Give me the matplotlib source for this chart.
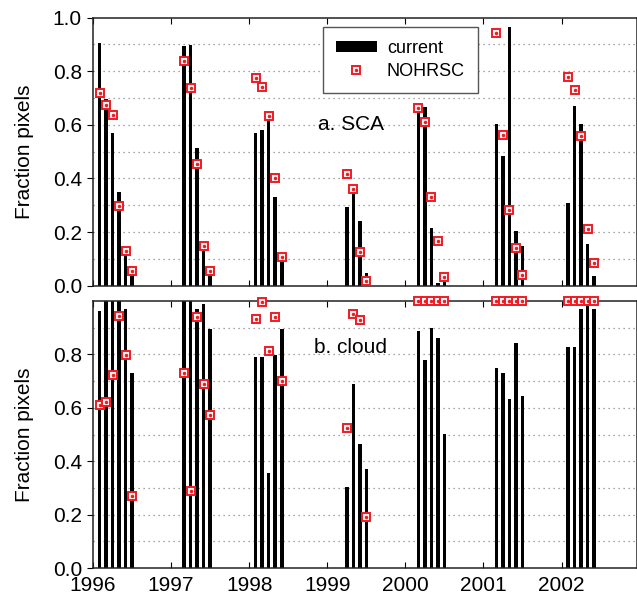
import matplotlib
matplotlib.use("Agg")
import matplotlib.pyplot as plt
from matplotlib.patches import Patch
from matplotlib.lines import Line2D

plt.rcParams['font.family'] = ['Liberation Sans', 'DejaVu Sans']

# Monthly values per snow season (month index: 1=Jan ... 12=Dec)
years = [1996]*6 + [1997]*5 + [1998]*5 + [1999]*4 + [2000]*5 + [2001]*5 + [2002]*5
months = [2, 3, 4, 5, 6, 7,
          3, 4, 5, 6, 7,
          2, 3, 4, 5, 6,
          4, 5, 6, 7,
          3, 4, 5, 6, 7,
          3, 4, 5, 6, 7,
          2, 3, 4, 5, 6]

# a. SCA
sca_current = [0.904, 0.695, 0.571, 0.348, 0.12, 0.04,
               0.896, 0.898, 0.512, 0.13, 0.04,
               0.571, 0.581, 0.618, 0.332, 0.09,
               0.295, 0.357, 0.243, 0.049,
               0.668, 0.665, 0.216, 0.011, 0.015,
               0.603, 0.485, 0.966, 0.204, 0.149,
               0.31, 0.67, 0.603, 0.155, 0.036]
sca_nohrsc = [0.72, 0.675, 0.636, 0.298, 0.131, 0.056,
              0.838, 0.738, 0.454, 0.148, 0.056,
              0.776, 0.743, 0.632, 0.403, 0.107,
              0.417, 0.361, 0.124, 0.017,
              0.664, 0.611, 0.332, 0.168, 0.031,
              0.942, 0.562, 0.282, 0.142, 0.039,
              0.78, 0.73, 0.56, 0.213, 0.083]

# b. cloud
cloud_current = [0.962, 1.0, 1.0, 1.0, 0.97, 0.73,
                 1.0, 1.0, 0.97, 0.99, 0.896,
                 0.79, 0.79, 0.354, 0.796, 0.896,
                 0.304, 0.688, 0.464, 0.369,
                 0.886, 0.78, 0.90, 0.861, 0.503,
                 0.75, 0.73, 0.632, 0.842, 0.644,
                 0.827, 0.827, 0.97, 0.99, 0.97]
cloud_nohrsc = [0.609, 0.622, 0.724, 0.942, 0.796, 0.27,
                0.731, 0.289, 0.94, 0.69, 0.572,
                0.931, 0.996, 0.811, 0.94, 0.70,
                0.525, 0.95, 0.927, 0.192,
                1.0, 1.0, 1.0, 1.0, 1.0,
                1.0, 1.0, 1.0, 1.0, 1.0,
                1.0, 1.0, 1.0, 1.0, 1.0]

year_ticks = [1996, 1997, 1998, 1999, 2000, 2001, 2002]

# decimal year position of each month
x = [y + (m - 1) / 12 for y, m in zip(years, months)]

fig = plt.figure(figsize=(6.37, 6.01), dpi=100)
ax1 = fig.add_axes([93/637, 1 - 285.7/601, 543.5/637, 268/601])
ax2 = fig.add_axes([93/637, 1 - 568/601, 543.5/637, 267/601])

red = '#ee1c25'

def draw_panel(ax, current, nohrsc):
    ax.bar(x, current, width=0.046, color='black', zorder=2)
    ax.plot(x, nohrsc, ls='none', marker='s', ms=6.3, mfc='#fff4f4', mec=red, mew=1.4,
            zorder=3, clip_on=False)
    ax.plot(x, nohrsc, ls='none', marker='.', ms=3, color=red, zorder=4, clip_on=False)
    ax.set_xlim(1996, 2002.96)
    ax.set_ylim(0, 1.0)
    ax.set_xticks(year_ticks)
    ax.tick_params(axis='x', direction='in', top=True, length=4, labelsize=15, pad=6)
    ax.tick_params(axis='y', direction='out', length=4, labelsize=15, pad=4)
    # dotted horizontal grid every 0.1
    for g in [0.1, 0.2, 0.3, 0.4, 0.5, 0.6, 0.7, 0.8, 0.9]:
        ax.axhline(g, color='#888888', lw=0.9, ls=(0, (1, 3)), zorder=1)
    for s in ax.spines.values():
        s.set_color('#222222')
        s.set_linewidth(1.1)
    ax.set_ylabel("Fraction pixels", fontsize=15)
    ax.yaxis.set_label_coords(-0.108, 0.5)

draw_panel(ax1, sca_current, sca_nohrsc)
ax1.set_yticks([0.0, 0.2, 0.4, 0.6, 0.8, 1.0])
ax1.set_yticklabels(["0.0", "0.2", "0.4", "0.6", "0.8", "1.0"])
ax1.tick_params(axis='x', labelbottom=False)
ax1.text(0.474, 0.60, "a. SCA", transform=ax1.transAxes, ha='center', va='center', fontsize=15)

draw_panel(ax2, cloud_current, cloud_nohrsc)
ax2.set_yticks([0.0, 0.2, 0.4, 0.6, 0.8])
ax2.set_yticklabels(["0.0", "0.2", "0.4", "0.6", "0.8"])
ax2.text(0.474, 0.826, "b. cloud", transform=ax2.transAxes, ha='center', va='center', fontsize=15)

# Legend
h_bar = Patch(facecolor='black')
h_sq = Line2D([], [], ls='none', marker='s', ms=6.3, mfc='#fff4f4', mec=red, mew=1.4)
h_dot = Line2D([], [], ls='none', marker='.', ms=3, color=red)
leg = ax1.legend([h_bar, (h_sq, h_dot)], ["current", "NOHRSC"], loc='upper left',
                 bbox_to_anchor=(0.423, 0.965), borderaxespad=0, fontsize=13,
                 fancybox=False, framealpha=1, edgecolor='#555555',
                 handlelength=2.3, handleheight=0.6, borderpad=0.7, labelspacing=0.35,
                 handletextpad=0.55)
leg.get_frame().set_linewidth(1.0)

plt.savefig("out.png", dpi=100)
